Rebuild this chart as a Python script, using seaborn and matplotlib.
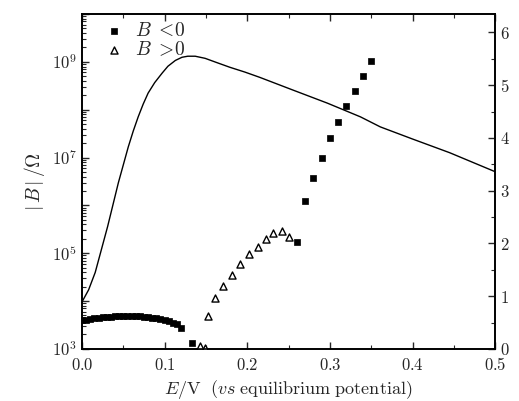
import numpy as np
import pandas as pd
import matplotlib
matplotlib.use("Agg")
import matplotlib.pyplot as plt
import seaborn as sns
from matplotlib.ticker import LogLocator, FuncFormatter, MultipleLocator, NullFormatter

# ---- data ----
# B < 0 : |B| in Ohm given as log10 values
neg_x = [0.000, 0.005, 0.010, 0.015, 0.020, 0.025, 0.030, 0.035, 0.040, 0.045,
         0.050, 0.055, 0.060, 0.065, 0.070, 0.075, 0.080, 0.085, 0.090, 0.095,
         0.100, 0.105, 0.110, 0.115, 0.120, 0.133,
         0.260, 0.270, 0.280, 0.290, 0.300, 0.310, 0.320, 0.330, 0.340, 0.350]
neg_log10 = [3.60, 3.61, 3.63, 3.64, 3.65, 3.66, 3.67, 3.67, 3.68, 3.68,
             3.69, 3.69, 3.69, 3.68, 3.68, 3.67, 3.66, 3.65, 3.64, 3.62,
             3.60, 3.58, 3.55, 3.51, 3.44, 3.12,
             5.23, 6.09, 6.58, 7.00, 7.40, 7.74, 8.07, 8.39, 8.71, 9.02]
# B > 0
pos_x = [0.143, 0.149, 0.153, 0.161, 0.171, 0.182, 0.191, 0.202, 0.213,
         0.223, 0.231, 0.242, 0.251]
pos_log10 = [3.07, 3.02, 3.69, 4.07, 4.31, 4.54, 4.77, 4.98, 5.13,
             5.29, 5.42, 5.46, 5.34]
# solid curve (right axis)
line_x = [0.000, 0.008, 0.016, 0.031, 0.044, 0.056, 0.062, 0.068, 0.074, 0.080,
          0.088, 0.097, 0.104, 0.113, 0.121, 0.128, 0.137, 0.149, 0.163, 0.179,
          0.197, 0.215, 0.255, 0.297, 0.337, 0.361, 0.400, 0.445, 0.500]
line_y = [0.89, 1.12, 1.45, 2.32, 3.15, 3.83, 4.13, 4.40, 4.64, 4.85,
          5.05, 5.23, 5.36, 5.47, 5.53, 5.55, 5.55, 5.51, 5.43, 5.34,
          5.25, 5.15, 4.91, 4.66, 4.40, 4.21, 3.98, 3.72, 3.36]

neg_df = pd.DataFrame({"E": neg_x, "B": np.power(10.0, neg_log10)})
pos_df = pd.DataFrame({"E": pos_x, "B": np.power(10.0, pos_log10)})
line_df = pd.DataFrame({"E": line_x, "Y": line_y})

sns.set_style("ticks")
plt.rcParams["font.family"] = ["DejaVu Serif", "DejaVu Sans"]
plt.rcParams["mathtext.fontset"] = "cm"

fig = plt.figure(figsize=(5.19, 4.01), dpi=100)
ax = fig.add_axes([0.158, 0.130, 0.796, 0.835])
ax2 = ax.twinx()

sns.scatterplot(data=neg_df, x="E", y="B", ax=ax, marker="s", color="black",
                s=24, edgecolor="black", linewidth=0.5, label=r"$B\ <\!0$", zorder=3)
sns.scatterplot(data=pos_df, x="E", y="B", ax=ax, marker="^", facecolor="white",
                edgecolor="black", s=26, linewidth=1.0, label=r"$B\ >\!0$", zorder=3)
sns.lineplot(data=line_df, x="E", y="Y", ax=ax2, color="black", linewidth=1.0)

ax.set_yscale("log")
ax.set_xlim(0, 0.5)
ax.set_ylim(1e3, 1e10)
ax2.set_ylim(0, 6.35)

def xfmt(v, pos):
    return r"$%.1f$" % v

def yfmt(v, pos):
    e = int(round(np.log10(v)))
    if e % 2 == 1:
        return r"$10^{%d}$" % e
    return ""

ax.xaxis.set_major_locator(MultipleLocator(0.1))
ax.xaxis.set_minor_locator(MultipleLocator(0.05))
ax.xaxis.set_major_formatter(FuncFormatter(xfmt))
ax.yaxis.set_major_locator(LogLocator(base=10, numticks=20))
ax.yaxis.set_minor_locator(LogLocator(base=10, subs=np.arange(2, 10), numticks=50))
ax.yaxis.set_major_formatter(FuncFormatter(yfmt))
ax.yaxis.set_minor_formatter(NullFormatter())

ax2.yaxis.set_major_locator(MultipleLocator(1))
ax2.yaxis.set_minor_locator(MultipleLocator(0.5))
ax2.yaxis.set_major_formatter(FuncFormatter(lambda v, p: r"$%d$" % v))

ax.tick_params(axis="both", which="major", direction="in", length=5, width=1,
               labelsize=12, top=True, right=False)
ax.tick_params(axis="x", which="major", pad=6)
ax.tick_params(axis="both", which="minor", direction="in", length=3, width=0.8,
               top=True, right=False)
ax2.tick_params(axis="y", which="major", direction="in", length=5, width=1, labelsize=12)
ax2.tick_params(axis="y", which="minor", direction="in", length=3, width=0.8)
ax2.set_ylabel("")
ax2.set_xlabel("")

for a in (ax, ax2):
    for s in a.spines.values():
        s.set_linewidth(1.2)
        s.set_color("black")

ax.set_xlabel(r"$E/\mathrm{V}\ \ (vs\ \mathrm{equilibrium\ potential})$", fontsize=13, labelpad=3)
ax.set_ylabel(r"$|\,B\,|\,/\Omega$", fontsize=14, labelpad=4)

leg = ax.legend(loc="upper left", frameon=False, fontsize=14, handletextpad=0.5,
                borderaxespad=0.0, handlelength=1.2, labelspacing=0.05,
                bbox_to_anchor=(0.03, 1.0))

fig.savefig("out.png", dpi=100)
